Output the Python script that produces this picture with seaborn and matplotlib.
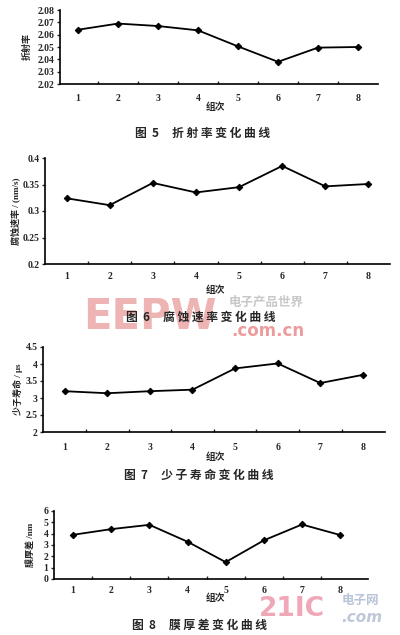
import numpy as np
import pandas as pd
import matplotlib
matplotlib.use("Agg")
import matplotlib.pyplot as plt
import seaborn as sns

groups = [1, 2, 3, 4, 5, 6, 7, 8]
refractive_index = [2.064, 2.069, 2.067, 2.0635, 2.0505, 2.038, 2.0495, 2.050]
etch_rate = [0.324, 0.311, 0.353, 0.335, 0.345, 0.385, 0.3465, 0.351]
minority_lifetime = [3.20, 3.14, 3.20, 3.245, 3.87, 4.016, 3.44, 3.68]
thickness_diff = [3.9, 4.4, 4.78, 3.29, 1.49, 3.41, 4.81, 3.88]

ylabels = ["折射率", "腐蚀速率 / (nm/s)", "少子寿命 / μs", "膜厚差 /nm"]
captions = ["图  5     折 射 率 变 化 曲 线", "图  6     腐 蚀 速 率 变 化 曲 线",
            "图  7     少 子 寿 命 变 化 曲 线", "图  8     膜 厚 差 变 化 曲 线"]
xlabel = "组次"
yticks_list = [
    [2.02, 2.03, 2.04, 2.05, 2.06, 2.07, 2.08],
    [0.2, 0.25, 0.3, 0.35, 0.4],
    [2, 2.5, 3, 3.5, 4, 4.5],
    [0, 1, 2, 3, 4, 5, 6],
]
yticklabels_list = [
    ["2.02", "2.03", "2.04", "2.05", "2.06", "2.07", "2.08"],
    ["0.2", "0.25", "0.3", "0.35", "0.4"],
    ["2", "2.5", "3", "3.5", "4", "4.5"],
    ["0", "1", "2", "3", "4", "5", "6"],
]

sns.set_theme(style="ticks")
plt.rcParams['font.family'] = ['Liberation Serif', 'Noto Sans CJK SC', 'DejaVu Sans']
plt.rcParams['font.weight'] = 'bold'

W, H = 400, 635
fig = plt.figure(figsize=(W / 100, H / 100), dpi=100)

def fy(y):
    return 1 - y / H

# pixel boxes: left, right, top, bottom
boxes = [(60, 378, 10, 84), (45, 390, 158, 264), (43, 385, 347, 432), (54, 368, 511, 579)]
xlims = [(0.55, 8.5), (0.5, 8.5), (0.49, 8.52), (0.5, 8.73)]
ylab_x = [27, 15, 18, 30]
xlab_y = [107, 290, 457, 598]
cap_y = [133, 317, 475, 625]
cap_x = [203, 201, 199, 199]
tick_y = [96, 275, 445, 589]

series = [refractive_index, etch_rate, minority_lifetime, thickness_diff]

for i in range(4):
    l, r, t, b = boxes[i]
    ax = fig.add_axes([l / W, fy(b), (r - l) / W, (b - t) / H])
    df = pd.DataFrame({"x": groups, "y": series[i]})
    sns.lineplot(data=df, x="x", y="y", ax=ax, color="black", lw=1.3,
                 marker="D", markersize=3.3, markeredgecolor="black")
    ax.set_xlim(*xlims[i])
    ax.set_ylim(yticks_list[i][0], yticks_list[i][-1])
    ax.set_yticks(yticks_list[i])
    ax.set_yticklabels(yticklabels_list[i], fontsize=7, fontweight='bold')
    ax.set_xticks(groups)
    ax.set_xticklabels([str(g) for g in groups], fontsize=7, fontweight='bold')
    ax.set_xticks([g + 0.5 for g in groups[:-1]], minor=True)
    ax.tick_params(axis='x', which='major', length=0, pad=(tick_y[i] - b) - 5)
    ax.tick_params(axis='x', which='minor', length=2.5, direction='in', width=1)
    ax.tick_params(axis='y', length=2.5, width=1, pad=1.5)
    for s in ['top', 'right']:
        ax.spines[s].set_visible(False)
    for s in ['left', 'bottom']:
        ax.spines[s].set_linewidth(1.2)
        ax.spines[s].set_color('black')
    ax.set_xlabel(xlabel, fontsize=7, fontweight='bold')
    ax.xaxis.set_label_coords((215 - l) / (r - l), -(xlab_y[i] - b) / (b - t), transform=ax.transAxes)
    ax.xaxis.label.set_va('center')
    ax.set_ylabel(ylabels[i], fontsize=6.5, fontweight='bold')
    ax.yaxis.set_label_coords((ylab_x[i] - l) / (r - l), 0.5, transform=ax.transAxes)
    ax.yaxis.label.set_va('center')
    ax.set_facecolor('none')
    fig.text(cap_x[i] / W, fy(cap_y[i]), captions[i], ha='center', va='center',
             fontsize=8.5, fontweight='bold',
             family=['Noto Sans CJK SC', 'DejaVu Sans'])

# watermarks
fig.text(150 / W, fy(317), "EEPW", ha='center', va='center', fontsize=30,
         fontweight='bold', color='#e99a9a', alpha=0.75, zorder=0,
         family=['DejaVu Sans'])
fig.text(266 / W, fy(302), "电子产品世界", ha='center', va='center', fontsize=9,
         color='#c8c8c8', zorder=0, family=['Noto Sans CJK SC'])
fig.text(268 / W, fy(331), ".com.cn", ha='center', va='center', fontsize=12,
         fontweight='bold', color='#ec9c9c', zorder=0, family=['DejaVu Sans'])
fig.text(292 / W, fy(609), "21IC", ha='center', va='center', fontsize=19,
         fontweight='bold', color='#f0a8b8', zorder=0, family=['DejaVu Sans'])
fig.text(360 / W, fy(600), "电子网", ha='center', va='center', fontsize=9,
         color='#b8c4d8', zorder=0, family=['Noto Sans CJK SC'])
fig.text(362 / W, fy(617), ".com", ha='center', va='center', fontsize=11,
         color='#c0c8d8', style='italic', zorder=0, family=['DejaVu Sans'])

fig.savefig("out.png", dpi=100, facecolor='white')
